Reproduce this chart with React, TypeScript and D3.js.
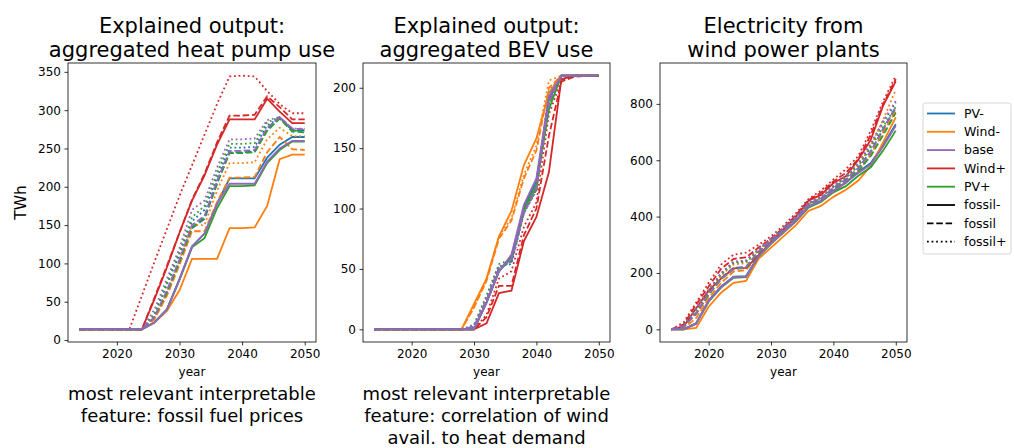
import React, { useEffect, useRef } from 'react';
import * as d3 from 'd3';

const years = [2014, 2016, 2018, 2020, 2022, 2024, 2026, 2028, 2030, 2032, 2034, 2036, 2038, 2040, 2042, 2044, 2046, 2048, 2050];
const scenarios = ['PV-', 'Wind-', 'base', 'Wind+', 'PV+'];
const fossilLabels = ['fossil-', 'fossil', 'fossil+'];
const xTicks = [2020, 2030, 2040, 2050];

// heat pump use (TWh), rows: fossil-, fossil, fossil+
const heatPvMinus = [
  [14, 14, 14, 14, 14, 14, 23, 40, 80, 122, 139, 178, 211, 211, 211, 238, 255, 265, 265],
  [14, 14, 14, 14, 14, 14, 29, 62, 102, 146, 158, 204, 245, 245, 246, 275, 290, 274, 273],
  [14, 14, 14, 14, 14, 14, 33, 72, 112, 155, 170, 212, 251, 251, 252, 280, 290, 274, 274],
];
const heatWindMinus = [
  [14, 14, 14, 14, 14, 14, 23, 38, 65, 106, 106, 106, 146, 146, 147, 175, 236, 242, 242],
  [14, 14, 14, 14, 14, 14, 27, 58, 98, 142, 142, 180, 212, 212, 213, 245, 265, 249, 248],
  [14, 14, 14, 14, 14, 14, 30, 62, 104, 150, 150, 195, 231, 231, 232, 262, 277, 266, 266],
];
const heatBase = [
  [14, 14, 14, 14, 14, 14, 23, 40, 79, 122, 139, 178, 204, 204, 204, 233, 250, 260, 260],
  [14, 14, 14, 14, 14, 14, 30, 65, 105, 150, 162, 208, 247, 247, 248, 277, 291, 276, 275],
  [14, 14, 14, 14, 14, 14, 40, 80, 120, 170, 182, 225, 262, 262, 263, 287, 291, 276, 276],
];
const heatWindPlus = [
  [14, 14, 14, 14, 14, 14, 53, 95, 140, 182, 215, 255, 288, 288, 288, 315, 298, 283, 283],
  [14, 14, 14, 14, 14, 14, 55, 97, 140, 183, 217, 258, 293, 293, 294, 318, 304, 288, 288],
  [14, 14, 14, 14, 14, 58, 102, 145, 188, 228, 268, 308, 344, 345, 344, 325, 308, 296, 296],
];
const heatPvPlus = [
  [14, 14, 14, 14, 14, 14, 23, 40, 78, 121, 133, 172, 201, 201, 202, 231, 248, 259, 259],
  [14, 14, 14, 14, 14, 14, 30, 62, 102, 147, 160, 205, 244, 244, 245, 273, 289, 272, 271],
  [14, 14, 14, 14, 14, 14, 35, 75, 115, 160, 175, 218, 256, 256, 257, 284, 291, 273, 273],
];

// BEV use (TWh)
const bevPvMinus = [
  [0, 0, 0, 0, 0, 0, 0, 0, 0, 22, 48, 60, 101, 123, 190, 210, 210, 210, 210],
  [0, 0, 0, 0, 0, 0, 0, 0, 2, 24, 51, 56, 98, 117, 194, 210, 210, 210, 210],
  [0, 0, 0, 0, 0, 0, 0, 0, 3, 25, 52, 54, 96, 116, 197, 210, 210, 210, 210],
];
const bevWindMinus = [
  [0, 0, 0, 0, 0, 0, 0, 0, 21, 42, 77, 98, 136, 158, 196, 210, 210, 210, 210],
  [0, 0, 0, 0, 0, 0, 0, 0, 18, 40, 75, 90, 125, 148, 200, 210, 210, 210, 210],
  [0, 0, 0, 0, 0, 0, 0, 0, 19, 41, 77, 92, 128, 152, 206, 210, 210, 210, 210],
];
const bevBase = [
  [0, 0, 0, 0, 0, 0, 0, 0, 0, 22, 48, 62, 103, 125, 193, 210, 210, 210, 210],
  [0, 0, 0, 0, 0, 0, 0, 0, 2, 24, 50, 58, 97, 118, 188, 210, 210, 210, 210],
  [0, 0, 0, 0, 0, 0, 0, 0, 3, 26, 52, 56, 96, 115, 190, 210, 210, 210, 210],
];
const bevWindPlus = [
  [0, 0, 0, 0, 0, 0, 0, 0, 0, 5, 30, 32, 73, 93, 130, 207, 210, 210, 210],
  [0, 0, 0, 0, 0, 0, 0, 0, 0, 10, 36, 36, 78, 100, 160, 205, 209, 210, 210],
  [0, 0, 0, 0, 0, 0, 0, 0, 0, 12, 42, 48, 85, 105, 178, 206, 210, 210, 210],
];
const bevPvPlus = [
  [0, 0, 0, 0, 0, 0, 0, 0, 0, 22, 48, 60, 100, 120, 182, 210, 210, 210, 210],
  [0, 0, 0, 0, 0, 0, 0, 0, 1, 24, 50, 57, 97, 116, 186, 210, 210, 210, 210],
  [0, 0, 0, 0, 0, 0, 0, 0, 4, 28, 54, 58, 98, 118, 188, 210, 210, 210, 210],
];

// electricity from wind (TWh)
const windPvMinus = [
  [0, 0, 22, 102, 152, 187, 189, 262, 306, 346, 386, 436, 456, 492, 522, 558, 590, 655, 728],
  [0, 10, 58, 128, 182, 218, 222, 276, 316, 356, 396, 446, 464, 502, 532, 572, 632, 712, 785],
  [0, 14, 72, 138, 198, 238, 243, 284, 321, 361, 401, 449, 469, 508, 543, 588, 655, 735, 805],
];
const windWindMinus = [
  [0, 0, 5, 80, 130, 165, 172, 250, 290, 330, 370, 420, 438, 470, 495, 528, 580, 665, 752],
  [0, 3, 40, 110, 165, 205, 210, 265, 305, 345, 385, 435, 452, 488, 520, 560, 620, 700, 775],
  [0, 8, 60, 130, 190, 230, 235, 280, 318, 355, 395, 445, 465, 505, 540, 580, 650, 745, 850],
];
const windBase = [
  [0, 0, 20, 100, 150, 185, 187, 260, 305, 345, 385, 435, 455, 490, 520, 555, 585, 650, 722],
  [0, 10, 55, 125, 180, 215, 220, 275, 315, 355, 395, 445, 463, 500, 530, 570, 630, 710, 790],
  [0, 15, 75, 140, 200, 240, 245, 285, 322, 362, 402, 450, 470, 510, 545, 590, 660, 740, 810],
];
const windWindPlus = [
  [0, 10, 75, 138, 180, 216, 218, 262, 310, 355, 400, 456, 477, 519, 543, 602, 673, 795, 880],
  [0, 18, 88, 152, 215, 250, 255, 290, 322, 360, 405, 458, 485, 525, 555, 605, 690, 800, 888],
  [0, 25, 95, 165, 230, 265, 272, 300, 330, 368, 412, 462, 492, 532, 568, 615, 705, 810, 900],
];
const windPvPlus = [
  [0, 0, 20, 98, 148, 183, 185, 258, 303, 343, 383, 432, 452, 486, 508, 545, 575, 635, 705],
  [0, 9, 55, 122, 178, 213, 218, 272, 313, 353, 393, 442, 460, 496, 525, 562, 615, 690, 768],
  [0, 13, 70, 135, 195, 235, 240, 282, 320, 360, 400, 447, 466, 505, 538, 580, 645, 720, 790],
];

const colors: Record<string, string> = {
  'PV-': '#1f77b4',
  'Wind-': '#ff7f0e',
  base: '#9467bd',
  'Wind+': '#d62728',
  'PV+': '#2ca02c',
};
const dashes = ['none', '6.5,2.8', '1.8,2.8'];
// base drawn last so it lies on top
const drawOrder = ['PV-', 'Wind-', 'Wind+', 'PV+', 'base'];

const panels = [
  {
    left: 68, right: 316,
    title: ['Explained output:', 'aggregated heat pump use'],
    note: ['most relevant interpretable', 'feature: fossil fuel prices'],
    yTicks: [0, 50, 100, 150, 200, 250, 300, 350],
    ylabel: 'TWh',
    data: { 'PV-': heatPvMinus, 'Wind-': heatWindMinus, base: heatBase, 'Wind+': heatWindPlus, 'PV+': heatPvPlus } as Record<string, number[][]>,
  },
  {
    left: 363, right: 610,
    title: ['Explained output:', 'aggregated BEV use'],
    note: ['most relevant interpretable', 'feature: correlation of wind', 'avail. to heat demand'],
    yTicks: [0, 50, 100, 150, 200],
    ylabel: '',
    data: { 'PV-': bevPvMinus, 'Wind-': bevWindMinus, base: bevBase, 'Wind+': bevWindPlus, 'PV+': bevPvPlus } as Record<string, number[][]>,
  },
  {
    left: 660, right: 907,
    title: ['Electricity from', 'wind power plants'],
    note: [],
    yTicks: [0, 200, 400, 600, 800],
    ylabel: '',
    data: { 'PV-': windPvMinus, 'Wind-': windWindMinus, base: windBase, 'Wind+': windWindPlus, 'PV+': windPvPlus } as Record<string, number[][]>,
  },
];

const FONT = 'DejaVu Sans, sans-serif';

function Chart() {
  const ref = useRef<SVGSVGElement>(null);

  useEffect(() => {
    const svg = d3.select(ref.current);
    svg.selectAll('*').remove();
    const top = 63;
    const bottom = 342;

    panels.forEach((p) => {
      const all = Object.values(p.data).flat(2);
      const [lo, hi] = d3.extent(all) as [number, number];
      const pad = (hi - lo) * 0.05;
      const x = d3.scaleLinear().domain([2014 - 1.8, 2050 + 1.8]).range([p.left, p.right]);
      const y = d3.scaleLinear().domain([lo - pad, hi + pad]).range([bottom, top]);
      const g = svg.append('g');

      const line = d3.line<number>()
        .x((_, i) => x(years[i]))
        .y((d) => y(d));

      drawOrder.forEach((s) => {
        p.data[s].forEach((vals, k) => {
          g.append('path')
            .attr('d', line(vals))
            .attr('fill', 'none')
            .attr('stroke', colors[s])
            .attr('stroke-width', 1.8)
            .attr('stroke-dasharray', dashes[k]);
        });
      });

      // spines
      g.append('rect')
        .attr('x', p.left).attr('y', top)
        .attr('width', p.right - p.left).attr('height', bottom - top)
        .attr('fill', 'none').attr('stroke', '#000').attr('stroke-width', 0.8);

      const xAxis = g.append('g')
        .attr('transform', `translate(0,${bottom})`)
        .call(d3.axisBottom(x).tickValues(xTicks).tickFormat(d3.format('d')).tickSize(3.5).tickPadding(3.5));
      const yAxis = g.append('g')
        .attr('transform', `translate(${p.left},0)`)
        .call(d3.axisLeft(y).tickValues(p.yTicks).tickFormat(d3.format('d')).tickSize(3.5).tickPadding(3.5));
      [xAxis, yAxis].forEach((a) => {
        a.select('.domain').remove();
        a.selectAll('line').attr('stroke', '#000').attr('stroke-width', 0.8);
        a.selectAll('text').attr('font-family', FONT).attr('font-size', 12).attr('fill', '#000');
      });

      const cx = (p.left + p.right) / 2;
      g.append('text')
        .attr('x', cx).attr('y', 376)
        .attr('text-anchor', 'middle')
        .attr('font-family', FONT).attr('font-size', 12)
        .text('year');

      p.title.forEach((t, i) => {
        g.append('text')
          .attr('x', cx).attr('y', 33 + i * 23.5)
          .attr('text-anchor', 'middle')
          .attr('font-family', FONT).attr('font-size', 21)
          .text(t);
      });

      p.note.forEach((t, i) => {
        g.append('text')
          .attr('x', cx).attr('y', 400 + i * 22)
          .attr('text-anchor', 'middle')
          .attr('font-family', FONT).attr('font-size', 18)
          .text(t);
      });

      if (p.ylabel) {
        g.append('text')
          .attr('transform', `translate(21,${(top + bottom) / 2}) rotate(-90)`)
          .attr('text-anchor', 'middle')
          .attr('dominant-baseline', 'central')
          .attr('font-family', FONT).attr('font-size', 15.5)
          .text(p.ylabel);
      }
    });

    // legend
    const lg = svg.append('g');
    lg.append('rect')
      .attr('x', 923).attr('y', 103).attr('width', 88).attr('height', 151)
      .attr('rx', 2.5)
      .attr('fill', '#fff').attr('fill-opacity', 0.8)
      .attr('stroke', '#cccccc').attr('stroke-width', 0.8);
    const items = [
      ...scenarios.map((s) => ({ label: s, color: colors[s], dash: 'none' })),
      ...fossilLabels.map((f, k) => ({ label: f, color: '#000', dash: dashes[k] })),
    ];
    items.forEach((it, i) => {
      const yy = 113.5 + i * 18.3;
      lg.append('line')
        .attr('x1', 927).attr('x2', 955).attr('y1', yy).attr('y2', yy)
        .attr('stroke', it.color).attr('stroke-width', 1.8)
        .attr('stroke-dasharray', it.dash);
      lg.append('text')
        .attr('x', 964).attr('y', yy + 4.3)
        .attr('font-family', FONT).attr('font-size', 12.5)
        .text(it.label);
    });
  }, []);

  return (
    <svg ref={ref} width={1014} height={448}
      style={{ position: 'absolute', left: 0, top: 0, background: '#fff' }} />
  );
}

export default function App() {
  return <Chart />;
}
